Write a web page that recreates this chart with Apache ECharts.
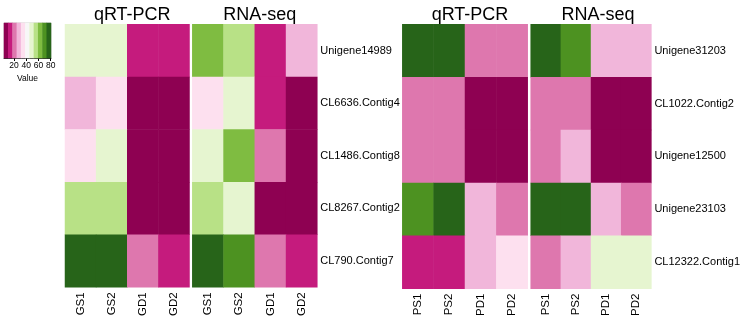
<!DOCTYPE html>
<html>
<head>
<meta charset="utf-8">
<script src="https://cdn.jsdelivr.net/npm/echarts@6/dist/echarts.min.js"></script>
<style>
  html, body { margin: 0; padding: 0; background: #fff; }
  #main { width: 743px; height: 319px; }
</style>
</head>
<body>
<div id="main"></div>
<script>
// PiYG palette, low (magenta) -> high (green)
var palette = ['#8e0152', '#c51b7d', '#de77ae', '#f1b6da', '#fde0ef', '#f7f7f7',
               '#e6f5d0', '#b8e186', '#7fbc41', '#4d9221', '#276419'];

var leftSamples = ['GS1', 'GS2', 'GD1', 'GD2'];
var rightSamples = ['PS1', 'PS2', 'PD1', 'PD2'];
var leftGenes = ['Unigene14989', 'CL6636.Contig4', 'CL1486.Contig8', 'CL8267.Contig2', 'CL790.Contig7'];
var rightGenes = ['Unigene31203', 'CL1022.Contig2', 'Unigene12500', 'Unigene23103', 'CL12322.Contig1'];

// rows = genes (top to bottom), cols = samples
var leftQpcr = [
    [49, 49, 14, 14],
    [28, 35, 7, 7],
    [35, 49, 7, 7],
    [56, 56, 7, 7],
    [77, 77, 21, 14]
];
var leftRnaseq = [
    [63, 56, 14, 28],
    [35, 49, 14, 7],
    [49, 63, 21, 7],
    [56, 49, 7, 7],
    [77, 70, 21, 14]
];
var rightQpcr = [
    [77, 77, 21, 21],
    [21, 21, 7, 7],
    [21, 21, 7, 7],
    [70, 77, 28, 21],
    [14, 14, 28, 35]
];
var rightRnaseq = [
    [77, 70, 28, 28],
    [21, 21, 7, 7],
    [21, 28, 7, 7],
    [77, 77, 28, 21],
    [21, 28, 49, 49]
];

// colour key
var keyValues = [7, 14, 21, 28, 35, 42, 49, 56, 63, 70, 77];
var keyTicks = [20, 40, 60, 80];

var font = '"Liberation Sans", Arial, sans-serif';
var chart = echarts.init(document.getElementById('main'));

function cells(matrix) {
    var out = [];
    for (var r = 0; r < matrix.length; r++) {
        for (var c = 0; c < matrix[r].length; c++) {
            out.push([c, r, matrix[r][c]]);
        }
    }
    return out;
}

var panels = [
    { left: 65, width: 124.5, samples: leftSamples, genes: leftGenes, data: leftQpcr, showGenes: false, title: 'qRT-PCR' },
    { left: 192.3, width: 125, samples: leftSamples, genes: leftGenes, data: leftRnaseq, showGenes: true, title: 'RNA-seq' },
    { left: 402.3, width: 125.4, samples: rightSamples, genes: rightGenes, data: rightQpcr, showGenes: false, title: 'qRT-PCR' },
    { left: 530.7, width: 124.5, samples: rightSamples, genes: rightGenes, data: rightRnaseq, showGenes: true, title: 'RNA-seq' }
];

var grid = [], xAxis = [], yAxis = [], series = [], title = [];

panels.forEach(function (p, i) {
    grid.push({ left: p.left, width: p.width, top: 24.3, height: 266.7 });
    xAxis.push({
        type: 'category', gridIndex: i, data: p.samples, position: 'bottom',
        axisLine: { show: false }, axisTick: { show: false },
        axisLabel: { rotate: 90, fontSize: 11.5, color: '#000', fontFamily: font, margin: 5 }
    });
    yAxis.push({
        type: 'category', gridIndex: i, data: p.genes, inverse: true, position: 'right',
        axisLine: { show: false }, axisTick: { show: false },
        axisLabel: { show: p.showGenes, fontSize: 11, color: '#000', fontFamily: font, margin: 3 }
    });
    series.push({
        type: 'heatmap', xAxisIndex: i, yAxisIndex: i, data: cells(p.data),
        itemStyle: { borderWidth: 0 }
    });
    title.push({
        text: p.title, left: p.left + p.width / 2, top: 1, textAlign: 'center',
        textStyle: { fontSize: 18, fontWeight: 'normal', color: '#000', fontFamily: font }
    });
});

// colour key grid
var k = panels.length;
grid.push({ left: 4, width: 47, top: 23, height: 35, show: true, borderColor: '#999', borderWidth: 0.5 });
xAxis.push({
    type: 'category', gridIndex: k, data: keyValues,
    axisLine: { show: false }, axisTick: { show: false }, axisLabel: { show: false }
});
xAxis.push({
    type: 'value', gridIndex: k, min: 3.5, max: 80.5, position: 'bottom',
    splitLine: { show: false },
    axisLine: { show: true, lineStyle: { color: '#000', width: 0.8 } },
    axisTick: { show: true, length: 3, customValues: keyTicks, lineStyle: { color: '#000' } },
    axisLabel: { customValues: keyTicks, fontSize: 8.5, color: '#000', fontFamily: font, margin: 3 },
    name: 'Value', nameLocation: 'middle', nameGap: 16,
    nameTextStyle: { fontSize: 8.5, color: '#000', fontFamily: font }
});
yAxis.push({ type: 'category', gridIndex: k, data: ['v'], show: false });
series.push({
    type: 'heatmap', xAxisIndex: k, yAxisIndex: k,
    data: keyValues.map(function (v, i) { return [i, 0, v]; })
});

chart.setOption({
    animation: false,
    title: title,
    grid: grid,
    xAxis: xAxis,
    yAxis: yAxis,
    visualMap: {
        type: 'continuous', show: false, min: 7, max: 77,
        inRange: { color: palette }
    },
    series: series
});
</script>
</body>
</html>
